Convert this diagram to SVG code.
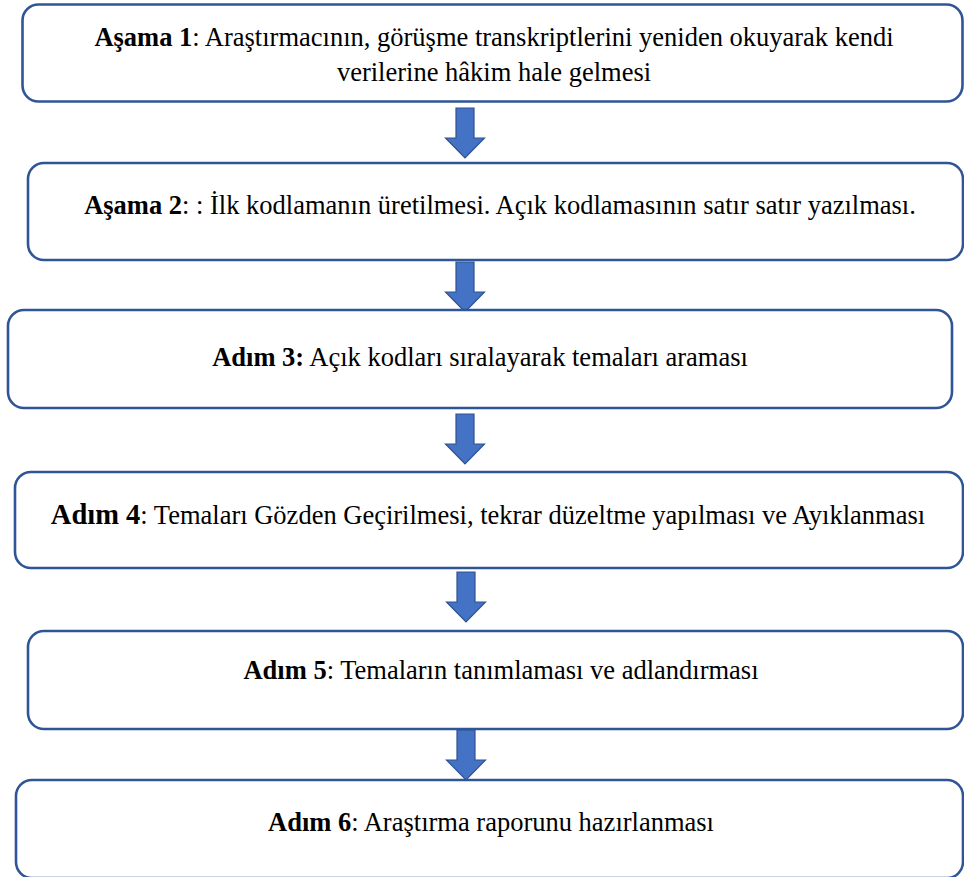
<svg xmlns="http://www.w3.org/2000/svg" width="964" height="877" viewBox="0 0 964 877">
  <style>
    .box { fill: #ffffff; stroke: #2F5597; stroke-width: 2.6; }
    .arrow { fill: #4472C4; stroke: #2F528F; stroke-width: 1.2; stroke-linejoin: miter; }
    .lbl { font-family: "Liberation Serif", "Times New Roman", serif; font-size: 26.5px; fill: #000000; text-anchor: middle; }
    .b { font-weight: bold; }
  </style>
  <defs>
    <!-- block arrow pointing down, origin at shaft top centre -->
    <path id="downArrow" d="M -9 0 H 9 V 30 H 19.5 L 0 50 L -19.5 30 H -9 Z"/>
  </defs>
  <rect width="964" height="877" fill="#ffffff"/>

  <g id="connectors">
    <use href="#downArrow" class="arrow" x="465" y="108"/>
    <use href="#downArrow" class="arrow" x="465" y="262"/>
    <use href="#downArrow" class="arrow" x="465" y="414"/>
    <use href="#downArrow" class="arrow" x="466" y="572"/>
    <use href="#downArrow" class="arrow" x="466" y="730"/>
  </g>

  <g id="step1">
    <rect class="box" x="22.5" y="4.5" width="940" height="97" rx="16"/>
    <text class="lbl" x="494" y="46"><tspan class="b">Aşama 1</tspan>: Araştırmacının, görüşme transkriptlerini yeniden okuyarak kendi</text>
    <text class="lbl" x="494" y="81">verilerine hâkim hale gelmesi</text>
  </g>

  <g id="step2">
    <rect class="box" x="28" y="163" width="935" height="97" rx="16"/>
    <text class="lbl" x="500" y="214"><tspan class="b">Aşama 2</tspan>: : İlk kodlamanın üretilmesi. Açık kodlamasının satır satır yazılması.</text>
  </g>

  <g id="step3">
    <rect class="box" x="8" y="310" width="944" height="98" rx="16"/>
    <text class="lbl" x="480" y="366"><tspan class="b">Adım 3:</tspan> Açık kodları sıralayarak temaları araması</text>
  </g>

  <g id="step4">
    <rect class="box" x="15" y="472" width="948" height="96" rx="16"/>
    <text class="lbl" x="488" y="524"><tspan class="b" font-size="28.5">Adım 4</tspan>: Temaları Gözden Geçirilmesi, tekrar düzeltme yapılması ve Ayıklanması</text>
  </g>

  <g id="step5">
    <rect class="box" x="28" y="631" width="935" height="98" rx="16"/>
    <text class="lbl" x="501" y="679"><tspan class="b">Adım 5</tspan>: Temaların tanımlaması ve adlandırması</text>
  </g>

  <g id="step6">
    <rect class="box" x="16" y="780" width="947" height="98" rx="16"/>
    <text class="lbl" x="491" y="831"><tspan class="b">Adım 6</tspan>: Araştırma raporunu hazırlanması</text>
  </g>
</svg>
